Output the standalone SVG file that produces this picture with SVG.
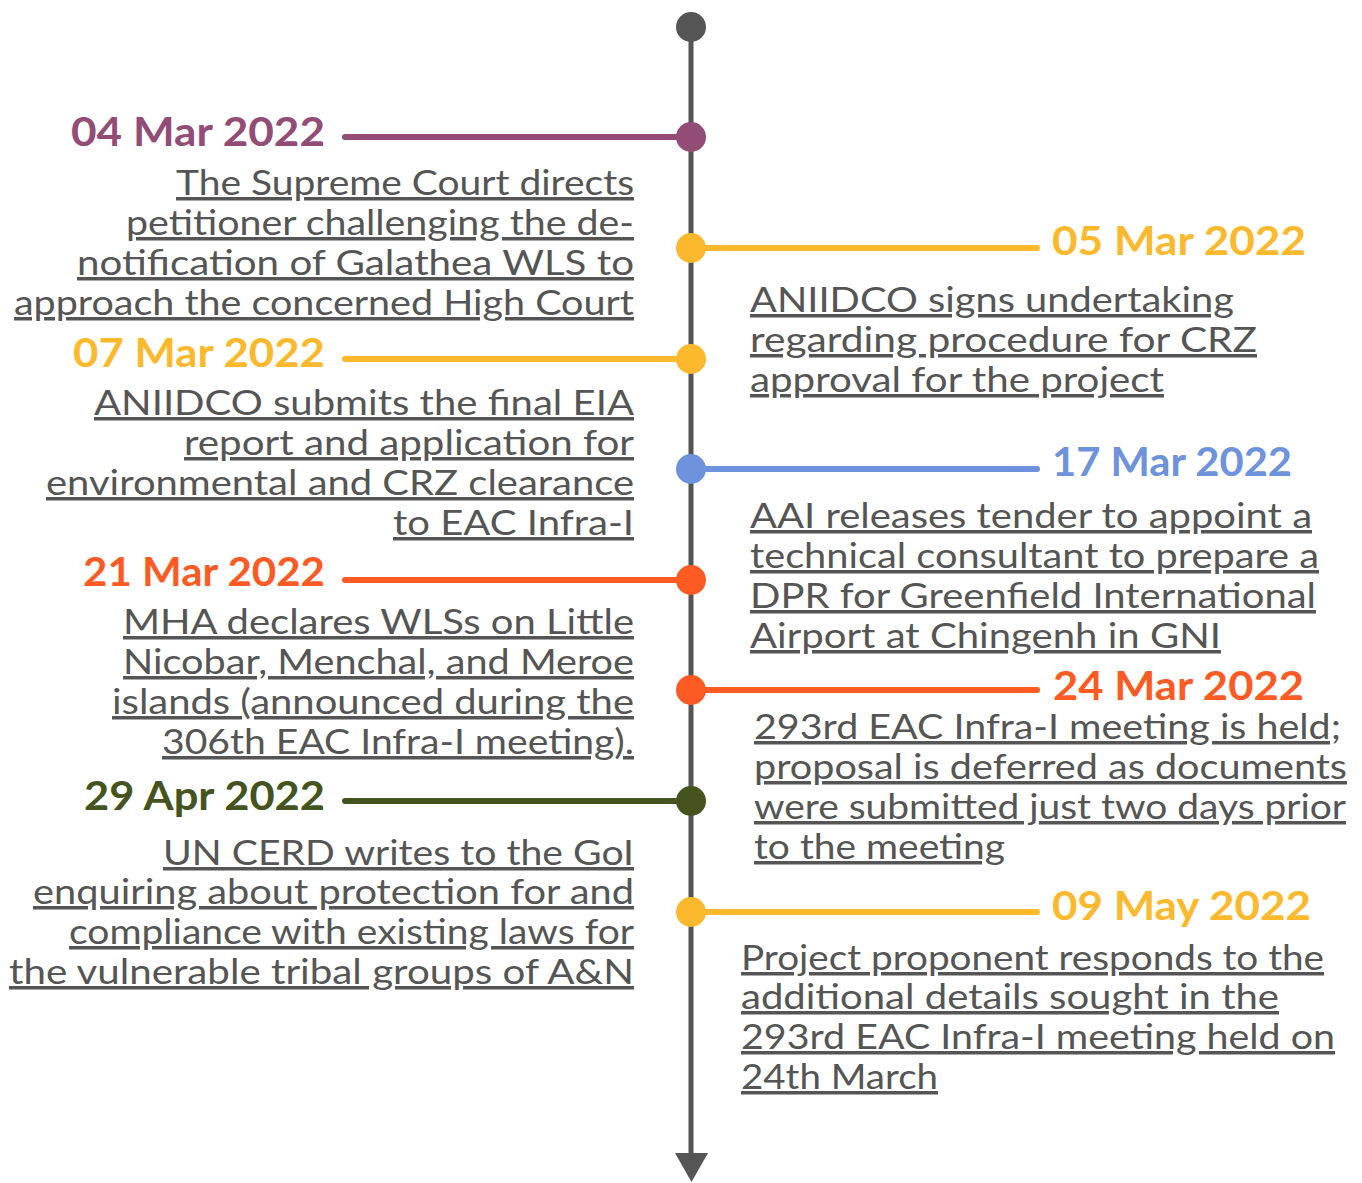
<svg xmlns="http://www.w3.org/2000/svg" width="1362" height="1183" viewBox="0 0 1362 1183">
<style>
.date{font-family:Lato,"Noto Sans",sans-serif;font-weight:700;font-size:41px}
.body{font-family:Lato,"Noto Sans",sans-serif;font-weight:400;font-size:35px;fill:#555555;text-decoration:underline;text-decoration-thickness:3px;text-underline-offset:4px}
.conn{stroke-width:6;stroke-linecap:round;fill:none}
.purple{fill:#924c76}.purpleS{stroke:#924c76}
.yellow{fill:#fdb92e}.yellowS{stroke:#fdb92e}
.blue{fill:#6e92dc}.blueS{stroke:#6e92dc}
.orange{fill:#fe5b24}.orangeS{stroke:#fe5b24}
.green{fill:#45541f}.greenS{stroke:#45541f}
</style>
<rect width="1362" height="1183" fill="#ffffff"/>
<g id="connectors">
<line x1="691" y1="27" x2="691" y2="1158" stroke="#555555" stroke-width="5"/>
<polygon points="675,1153 708,1153 691.5,1182" fill="#555555"/>
<line class="conn purpleS" x1="345" y1="137" x2="691" y2="137"/>
<line class="conn yellowS" x1="691" y1="248" x2="1037" y2="248"/>
<line class="conn yellowS" x1="345" y1="359" x2="691" y2="359"/>
<line class="conn blueS" x1="691" y1="469" x2="1037" y2="469"/>
<line class="conn orangeS" x1="345" y1="580" x2="691" y2="580"/>
<line class="conn orangeS" x1="691" y1="690" x2="1037" y2="690"/>
<line class="conn greenS" x1="345" y1="801" x2="691" y2="801"/>
<line class="conn yellowS" x1="691" y1="912" x2="1037" y2="912"/>
</g>
<g id="start"><circle cx="691" cy="27" r="15" fill="#555555"/></g>
<g id="e-04mar">
<circle cx="691" cy="137" r="15" class="purple"/>
<text class="date purple" x="71" y="146" textLength="254" lengthAdjust="spacingAndGlyphs">04 Mar 2022</text>
<text class="body" x="176" y="195" textLength="458" lengthAdjust="spacingAndGlyphs">The Supreme Court directs</text>
<text class="body" x="126" y="235" textLength="508" lengthAdjust="spacingAndGlyphs">petitioner challenging the de-</text>
<text class="body" x="77" y="275" textLength="557" lengthAdjust="spacingAndGlyphs">notification of Galathea WLS to</text>
<text class="body" x="14" y="315" textLength="620" lengthAdjust="spacingAndGlyphs">approach the concerned High Court</text>
</g>
<g id="e-05mar">
<circle cx="691" cy="248" r="15" class="yellow"/>
<text class="date yellow" x="1052" y="255" textLength="254" lengthAdjust="spacingAndGlyphs">05 Mar 2022</text>
<text class="body" x="750" y="312" textLength="484" lengthAdjust="spacingAndGlyphs">ANIIDCO signs undertaking</text>
<text class="body" x="750" y="352" textLength="507" lengthAdjust="spacingAndGlyphs">regarding procedure for CRZ</text>
<text class="body" x="750" y="392" textLength="414" lengthAdjust="spacingAndGlyphs">approval for the project</text>
</g>
<g id="e-07mar">
<circle cx="691" cy="359" r="15" class="yellow"/>
<text class="date yellow" x="73" y="367" textLength="252" lengthAdjust="spacingAndGlyphs">07 Mar 2022</text>
<text class="body" x="94" y="415" textLength="540" lengthAdjust="spacingAndGlyphs">ANIIDCO submits the final EIA</text>
<text class="body" x="184" y="455" textLength="450" lengthAdjust="spacingAndGlyphs">report and application for</text>
<text class="body" x="46" y="495" textLength="588" lengthAdjust="spacingAndGlyphs">environmental and CRZ clearance</text>
<text class="body" x="393" y="535" textLength="241" lengthAdjust="spacingAndGlyphs">to EAC Infra-I</text>
</g>
<g id="e-17mar">
<circle cx="691" cy="469" r="15" class="blue"/>
<text class="date blue" x="1052" y="476" textLength="240" lengthAdjust="spacingAndGlyphs">17 Mar 2022</text>
<text class="body" x="750" y="528" textLength="562" lengthAdjust="spacingAndGlyphs">AAI releases tender to appoint a</text>
<text class="body" x="750" y="568" textLength="569" lengthAdjust="spacingAndGlyphs">technical consultant to prepare a</text>
<text class="body" x="750" y="608" textLength="566" lengthAdjust="spacingAndGlyphs">DPR for Greenfield International</text>
<text class="body" x="750" y="648" textLength="471" lengthAdjust="spacingAndGlyphs">Airport at Chingenh in GNI</text>
</g>
<g id="e-21mar">
<circle cx="691" cy="580" r="15" class="orange"/>
<text class="date orange" x="83" y="586" textLength="242" lengthAdjust="spacingAndGlyphs">21 Mar 2022</text>
<text class="body" x="123" y="634" textLength="511" lengthAdjust="spacingAndGlyphs">MHA declares WLSs on Little</text>
<text class="body" x="123" y="674" textLength="511" lengthAdjust="spacingAndGlyphs">Nicobar, Menchal, and Meroe</text>
<text class="body" x="112" y="714" textLength="522" lengthAdjust="spacingAndGlyphs">islands (announced during the</text>
<text class="body" x="162" y="754" textLength="472" lengthAdjust="spacingAndGlyphs">306th EAC Infra-I meeting).</text>
</g>
<g id="e-24mar">
<circle cx="691" cy="690" r="15" class="orange"/>
<text class="date orange" x="1053" y="700" textLength="251" lengthAdjust="spacingAndGlyphs">24 Mar 2022</text>
<text class="body" x="754" y="739" textLength="587" lengthAdjust="spacingAndGlyphs">293rd EAC Infra-I meeting is held;</text>
<text class="body" x="754" y="779" textLength="593" lengthAdjust="spacingAndGlyphs">proposal is deferred as documents</text>
<text class="body" x="754" y="819" textLength="592" lengthAdjust="spacingAndGlyphs">were submitted just two days prior</text>
<text class="body" x="754" y="859" textLength="251" lengthAdjust="spacingAndGlyphs">to the meeting</text>
</g>
<g id="e-29apr">
<circle cx="691" cy="801" r="15" class="green"/>
<text class="date green" x="84" y="810" textLength="241" lengthAdjust="spacingAndGlyphs">29 Apr 2022</text>
<text class="body" x="163" y="865" textLength="471" lengthAdjust="spacingAndGlyphs">UN CERD writes to the GoI</text>
<text class="body" x="33" y="904" textLength="601" lengthAdjust="spacingAndGlyphs">enquiring about protection for and</text>
<text class="body" x="69" y="944" textLength="565" lengthAdjust="spacingAndGlyphs">compliance with existing laws for</text>
<text class="body" x="9" y="984" textLength="625" lengthAdjust="spacingAndGlyphs">the vulnerable tribal groups of A&amp;N</text>
</g>
<g id="e-09may">
<circle cx="691" cy="912" r="15" class="yellow"/>
<text class="date yellow" x="1052" y="920" textLength="259" lengthAdjust="spacingAndGlyphs">09 May 2022</text>
<text class="body" x="741" y="970" textLength="583" lengthAdjust="spacingAndGlyphs">Project proponent responds to the</text>
<text class="body" x="741" y="1009" textLength="538" lengthAdjust="spacingAndGlyphs">additional details sought in the</text>
<text class="body" x="741" y="1049" textLength="594" lengthAdjust="spacingAndGlyphs">293rd EAC Infra-I meeting held on</text>
<text class="body" x="741" y="1089" textLength="197" lengthAdjust="spacingAndGlyphs">24th March</text>
</g>
</svg>
